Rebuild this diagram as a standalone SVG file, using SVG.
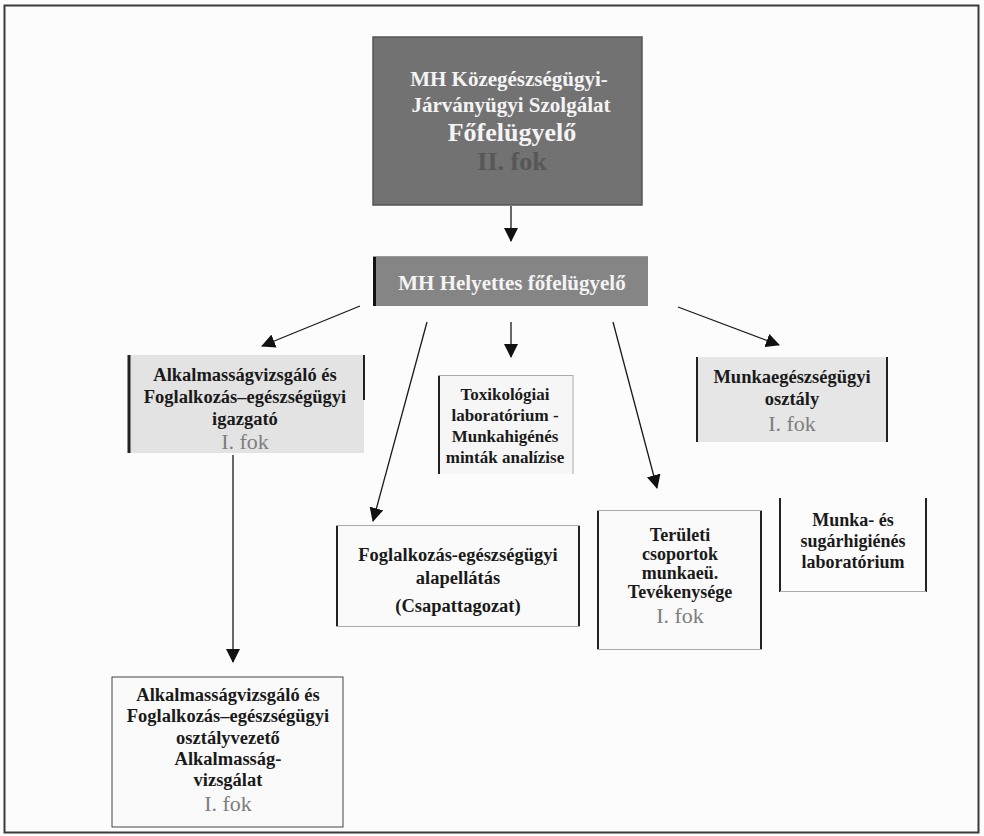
<svg xmlns="http://www.w3.org/2000/svg" width="984" height="836" viewBox="0 0 984 836">
<defs>
<marker id="ahb" markerWidth="14" markerHeight="14" refX="13" refY="7" orient="auto" markerUnits="userSpaceOnUse" viewBox="0 0 14 14">
<path d="M0,0 L14,7 L0,14 z" fill="#111"/>
</marker>
</defs>
<style>
text{font-family:"Liberation Serif","Times New Roman",serif;font-weight:bold;text-anchor:middle;fill:#1a1a1a}
.w{fill:#f4f4f4}
.g{fill:#7e7e7e;font-weight:normal}
.gd{fill:#575757}
.t17{font-size:17px}
.t18{font-size:18px}
.t18b{font-size:18.5px}
.t21{font-size:21px}
.t22{font-size:22px}
.t26{font-size:26px}
.side{stroke:#222;stroke-width:2}
.edge{stroke:#aaa;stroke-width:1}
.con{stroke:#1a1a1a;stroke-width:1.3;fill:none}
</style>
<rect x="0" y="0" width="984" height="836" fill="#fcfcfc"/>
<rect x="4.5" y="5.5" width="974" height="827" fill="none" stroke="#3a3a3a" stroke-width="2"/>

<g id="n-fofelugyelo">
<rect x="373" y="37" width="269" height="168" fill="#727272" stroke="#555" stroke-width="1.5"/>
<text class="w t21" x="509" y="86">MH Közegészségügyi-</text>
<text class="w t21" x="511" y="112">Járványügyi Szolgálat</text>
<text class="w t26" x="512" y="141">Főfelügyelő</text>
<text class="gd t26" x="512" y="170">II. fok</text>
</g>

<g id="n-helyettes">
<rect x="373" y="256" width="275" height="50" fill="#858585"/>
<line x1="374.5" y1="256" x2="374.5" y2="306" stroke="#111" stroke-width="3"/>
<line x1="373" y1="256.5" x2="648" y2="256.5" stroke="#999" stroke-width="1"/>
<text class="w t21" x="512" y="290">MH Helyettes főfelügyelő</text>
</g>

<g id="n-igazgato">
<rect x="128" y="355" width="236" height="98" fill="#e3e3e3"/>
<line class="side" x1="129" y1="355" x2="129" y2="453" style="stroke-width:3"/>
<line class="side" x1="364" y1="355" x2="364" y2="400"/>
<text class="t18b" x="245" y="381">Alkalmasságvizsgáló és</text>
<text class="t18b" x="245" y="403">Foglalkozás–egészségügyi</text>
<text class="t18b" x="245" y="425">igazgató</text>
<text class="g t22" x="245" y="449">I. fok</text>
</g>

<g id="n-toxikologiai">
<rect x="438" y="375" width="135" height="99" fill="#f6f6f6"/>
<line class="side" x1="439" y1="375" x2="439" y2="474"/>
<line class="edge" x1="438" y1="375.5" x2="573" y2="375.5"/>
<line class="edge" x1="573" y1="375" x2="573" y2="474"/>
<text class="t17" x="505" y="400">Toxikológiai</text>
<text class="t17" x="505" y="421">laboratórium -</text>
<text class="t17" x="505" y="442">Munkahigénés</text>
<text class="t17" x="505" y="463">minták analízise</text>
</g>

<g id="n-munkaegeszsegugyi">
<rect x="696" y="357" width="192" height="85" fill="#e6e6e6"/>
<line class="side" x1="697" y1="357" x2="697" y2="442"/>
<line class="side" x1="887" y1="357" x2="887" y2="442"/>
<text class="t18b" x="792" y="383">Munkaegészségügyi</text>
<text class="t18b" x="792" y="405">osztály</text>
<text class="g t22" x="792" y="431">I. fok</text>
</g>

<g id="n-alapellatas">
<rect x="336" y="525" width="244" height="102" fill="#fafafa"/>
<line class="side" x1="337" y1="525" x2="337" y2="627"/>
<line class="side" x1="579" y1="525" x2="579" y2="627"/>
<line class="edge" x1="336" y1="525.5" x2="580" y2="525.5"/>
<line class="edge" x1="336" y1="626.5" x2="580" y2="626.5"/>
<text class="t18b" x="458" y="561">Foglalkozás-egészségügyi</text>
<text class="t18b" x="458" y="584">alapellátás</text>
<text class="t18b" x="458" y="612">(Csapattagozat)</text>
</g>

<g id="n-teruleti">
<rect x="597" y="510" width="165" height="140" fill="#fafafa"/>
<line class="side" x1="598" y1="510" x2="598" y2="650"/>
<line class="side" x1="761" y1="510" x2="761" y2="650"/>
<line class="edge" x1="597" y1="510.5" x2="762" y2="510.5"/>
<line class="edge" x1="597" y1="649.5" x2="762" y2="649.5"/>
<text class="t18" x="680" y="541">Területi</text>
<text class="t18" x="680" y="560">csoportok</text>
<text class="t18" x="680" y="579">munkaeü.</text>
<text class="t18" x="680" y="598">Tevékenysége</text>
<text class="g t22" x="680" y="623">I. fok</text>
</g>

<g id="n-munka-sugar">
<line class="side" x1="780" y1="498" x2="780" y2="592"/>
<line class="side" x1="926" y1="498" x2="926" y2="592"/>
<line class="edge" x1="780" y1="591.5" x2="926" y2="591.5"/>
<text class="t18" x="853" y="526">Munka- és</text>
<text class="t18" x="853" y="547">sugárhigiénés</text>
<text class="t18" x="853" y="568">laboratórium</text>
</g>

<g id="n-osztalyvezeto">
<rect x="112" y="677" width="231" height="150" fill="#fafafa" stroke="#444" stroke-width="1"/>
<text class="t18b" x="228" y="701">Alkalmasságvizsgáló és</text>
<text class="t18b" x="228" y="722">Foglalkozás–egészségügyi</text>
<text class="t18b" x="228" y="744">osztályvezető</text>
<text class="t18b" x="228" y="765">Alkalmasság-</text>
<text class="t18b" x="228" y="786">vizsgálat</text>
<text class="g t22" x="228" y="811">I. fok</text>
</g>

<g id="connectors">
<line class="con" x1="511" y1="206" x2="511" y2="241" marker-end="url(#ahb)"/>
<line class="con" x1="360" y1="306" x2="262" y2="346" marker-end="url(#ahb)"/>
<line class="con" x1="427" y1="322" x2="373" y2="521" marker-end="url(#ahb)"/>
<line class="con" x1="511" y1="322" x2="511" y2="357" marker-end="url(#ahb)"/>
<line class="con" x1="613" y1="322" x2="657" y2="488" marker-end="url(#ahb)"/>
<line class="con" x1="678" y1="307" x2="779" y2="345" marker-end="url(#ahb)"/>
<line class="con" x1="233" y1="455" x2="233" y2="662" marker-end="url(#ahb)"/>
</g>
</svg>
